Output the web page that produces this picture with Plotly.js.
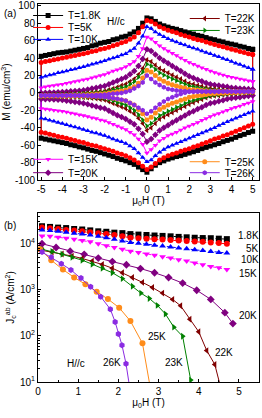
<!DOCTYPE html>
<html><head><meta charset="utf-8">
<script src="https://cdn.plot.ly/plotly-3.0.1.min.js"></script>
<style>html,body{margin:0;padding:0;background:#fff}#chart{width:262px;height:418px}</style>
</head><body><div id="chart"></div>
<script>
// ---------- Panel (a): M(H) loops ----------
const fieldA = [-5,-4.8,-4.6,-4.4,-4.2,-4,-3.8,-3.6,-3.4,-3.2,-3,-2.8,-2.6,-2.4,-2.2,-2,-1.8,-1.6,-1.4,-1.2,-1,-0.8,-0.6,-0.4,-0.2,0,0.2,0.4,0.6,0.8,1,1.2,1.4,1.6,1.8,2,2.2,2.4,2.6,2.8,3,3.2,3.4,3.6,3.8,4,4.2,4.4,4.6,4.8,5];
const up1p8 = [42,43,44,45,46,46.5,47,48,49,50,51,52,54,55,57,58,59,61,62,64,65,67.5,70,74,80,86,85,82,79,77,75.5,74,73,71.5,70,69,67.5,66,65,63.5,62,61,59.5,58.5,57,56,55,53.5,52.5,51,50];
const lo1p8 = [-52,-53,-54,-55,-56,-57,-58,-59.5,-60.5,-62,-63,-64.5,-66,-67,-68.5,-70,-71.5,-73,-75,-76.5,-78,-80,-82,-85,-88,-91,-87,-83,-80,-78,-76,-74.5,-73,-72,-70.5,-69,-67.5,-66,-64,-62.5,-61,-59.5,-58,-56,-54.5,-53,-51,-49,-47.5,-45.5,-44];
const up5 = [35,36,37,38,39,40,41,42,43,44,45,46,47.5,48.5,50,51,52.5,54,55.5,57.5,59,61.5,64,69,76,83,82,79,76,74,72,70.5,69,67,65.5,64,62.5,61,60,58.5,57,55.5,54,53,51.5,50,49,47.5,46.5,45,44];
const lo5 = [-45,-46,-47.5,-48.5,-50,-51,-52,-53.5,-54.5,-56,-57,-58.5,-60,-61,-62.5,-64,-65.5,-67,-69,-70.5,-72,-74.5,-77,-80,-84,-88,-85,-81,-77,-74.5,-72,-70.5,-69,-67,-65.5,-64,-62,-60.5,-58.5,-57,-55,-53,-51.5,-49.5,-48,-46,-44,-42,-40,-38,-36];
const up10 = [18,19,20.5,21.5,23,24,25,26.5,27.5,29,30,31.5,33,34,35.5,37,38.5,40,41.5,43.5,45,48,51,57,65,76,74,70,67,64.5,62,60,58.5,56.5,55,53,51.5,50,48,46.5,45,43,41.5,39.5,38,36,34,32.5,30.5,29,27];
const lo10 = [-29,-30,-31.5,-32.5,-34,-35,-36.5,-38,-39,-40.5,-42,-43.5,-45,-46,-47.5,-49,-51,-53,-54.5,-56,-58,-61,-64,-69,-74,-79,-77,-72,-68,-65,-62,-60,-58,-56,-54,-52,-50,-48,-46,-44,-42,-40,-37.5,-35.5,-33,-31,-29,-27,-25,-23,-21];
const up15 = [6,7,8,8.5,9.5,10,11,12,13,14,15,16,17.5,18.5,20,21,23,25,26.5,28,30,33,36,42,51,64,62,58,54,51,48,45.5,43,40,37.5,35,33,31,29,27,25,23.5,22,20.5,19,18,17,16,15,14,13];
const lo15 = [-18,-18.5,-19,-20,-20.5,-21,-22,-23,-24,-25,-26,-27,-28.5,-29.5,-31,-32,-34,-36,-38,-40,-42,-45,-48,-53,-59,-69,-65,-60,-55,-52,-49,-47,-45,-42.5,-40,-38,-36,-34,-31.5,-29.5,-27,-25,-23.5,-21.5,-20,-18,-16.5,-15,-13,-11.5,-10];
const up20 = [0,0.2,0.4,0.6,0.8,1,1.4,1.8,2.2,2.6,3,4,5,6,7,8,10,12,14,16,18,21.5,25,31,39,50,48,44,40,37,34,31,28,25,22,19,17,15,13.5,11.5,10,9,8.5,7.5,7,6,5.5,5,4.8,4.4,4];
const lo20 = [-7,-7.2,-7.4,-7.6,-7.8,-8,-9,-9.5,-10.5,-11,-12,-13,-14.5,-15.5,-17,-18,-20.5,-23,-25.5,-27.5,-30,-33,-36,-41,-47,-56,-53,-48,-43,-40,-37,-34,-31.5,-28.5,-26,-23,-21,-18.5,-16.5,-14,-12,-11,-9.5,-8.5,-7,-6,-5.5,-5,-4,-3.5,-3];
const up22 = [-2,-1.9,-1.8,-1.7,-1.6,-1.5,-1.3,-1.1,-0.9,-0.7,-0.5,0,0.5,1,1.5,2,3.5,5,6.5,8.5,10,13,16,21,28,38,36,32,28,25.5,23,20.5,18,16,13.5,11,10,8.5,7.5,6,5,4.5,4,3.5,3,2.5,2.3,2.1,1.9,1.7,1.5];
const lo22 = [-4,-4,-4,-4,-4,-4,-4.2,-4.4,-4.6,-4.8,-5,-5.5,-6,-6.5,-7.5,-8,-10,-12,-14,-16,-18,-21,-24,-29,-35,-43,-40,-35,-30,-27.5,-25,-22.5,-20,-17.5,-15.5,-13,-11,-9,-7.5,-5.5,-4,-3.5,-3,-2,-1.5,-1,-0.7,-0.4,-0.1,0.2,0.5];
const up23 = [-2.5,-2.4,-2.3,-2.2,-2.1,-2,-1.8,-1.6,-1.4,-1.2,-1,-0.6,-0.2,0.2,0.6,1,2,3.5,4.5,6,7,10,13,18,24,33,31,27,23,20.5,18,16,14,12,10,8,7,6,5,4.5,3.5,3.2,2.9,2.6,2.3,2,1.9,1.8,1.7,1.6,1.5];
const lo23 = [-4,-4,-4,-4,-4,-4,-4.1,-4.2,-4.3,-4.4,-4.5,-4.8,-5.1,-5.4,-5.7,-6,-7.5,-9,-11,-12.5,-14,-17,-20,-25,-31,-38,-35,-30,-26,-23.5,-21,-19,-16.5,-14.5,-12,-10,-8.5,-7,-5.5,-4.5,-3,-2.5,-2,-1.5,-1,-0.5,-0.3,-0.1,0.1,0.3,0.5];
const up25 = [-3,-3,-3,-3,-3,-3,-2.9,-2.8,-2.7,-2.6,-2.5,-2.2,-1.9,-1.6,-1.3,-1,-0.2,0.6,1.4,2.2,3,5,7,11,17,26,24,20,16,13.5,11,9.5,8,6.5,5.5,4,3.6,3.2,2.8,2.4,2,1.9,1.8,1.7,1.6,1.5,1.5,1.5,1.5,1.5,1.5];
const lo25 = [-3.5,-3.5,-3.5,-3.5,-3.5,-3.5,-3.5,-3.5,-3.5,-3.5,-3.5,-3.6,-3.7,-3.8,-3.9,-4,-5,-6,-7,-8,-9,-11.5,-14,-19,-24,-31,-28,-23,-19,-16.5,-14,-12,-10.5,-8.5,-7,-5,-4.2,-3.4,-2.6,-1.8,-1,-0.7,-0.4,-0.1,0.2,0.5,0.6,0.7,0.8,0.9,1];
const up26 = [-3,-3,-3,-3,-3,-3,-3,-3,-3,-3,-3,-2.9,-2.7,-2.5,-2.3,-2,-1.6,-1.1,-0.6,0,1,2.5,5,8,12,20,16,12,9,6.5,4.5,3.5,2.8,2.2,1.8,1.6,1.5,1.5,1.5,1.5,1.5,1.5,1.5,1.5,1.5,1.5,1.5,1.5,1.5,1.5,1.5];
const lo26 = [-3,-3,-3,-3,-3,-3,-3,-3,-3,-3,-3.1,-3.4,-3.7,-4,-4.3,-4.6,-5.3,-6,-6.8,-7.8,-9,-11.5,-14,-17,-20,-24,-21,-17,-13,-10,-7,-5,-3,-1.2,0.2,1.2,1.4,1.5,1.5,1.5,1.5,1.5,1.5,1.5,1.5,1.5,1.5,1.5,1.5,1.5,1.5];

// ---------- Panel (b): Jc(H) ----------
const fieldB_lowT = [0.1,0.3,0.5,0.7,0.9,1.1,1.3,1.5,1.7,1.9,2.1,2.3,2.5,2.7,2.9,3.1,3.3,3.5,3.7,3.9,4.1,4.3,4.5,4.7];
const jc1p8 = [24000,23200,22400,21900,20900,20400,19500,18600,18200,17400,17000,16200,15800,15500,15100,14800,14500,14100,13800,13500,13300,13200,12900,12600];
const jc5 = [22400,21600,20900,20000,19300,18600,17800,17000,16200,15500,14500,13500,13200,12900,12600,12300,12000,11700,11500,11200,11000,10700,10400,10000];
const jc10 = [20000,19300,18600,17800,17000,16200,15500,14500,13500,12600,11500,10700,10200,9800,9300,8900,8500,8100,7800,7400,7100,6800,6500,6300];
const jc15 = [14800,14500,13800,13200,12600,11700,11000,10000,9100,8300,7600,6900,6500,6000,5600,5200,4900,4500,4200,3800,3500,3200,3000,2750];
const fieldB20 = [0.1,0.45,0.8,1.15,1.5,1.85,2.2,2.55,2.9,3.25,3.6,3.95,4.3,4.65,4.85];
const jc20 = [10000,8300,6900,5900,4900,4100,3500,2900,2350,1850,1400,980,620,320,185];
const fieldB22 = [0.1,0.35,0.6,0.85,1.1,1.35,1.6,1.85,2.1,2.35,2.6,2.85,3.1,3.35,3.55,3.78,4.0,4.2,4.4,4.6];
const jc22 = [7200,6600,6000,5400,4800,4200,3550,2950,2350,1860,1450,1120,850,620,450,230,123,48,24,5];
const fieldB23 = [0.1,0.35,0.6,0.85,1.1,1.35,1.6,1.85,2.1,2.35,2.56,2.77,2.97,3.17,3.38,3.6,3.8];
const jc23 = [7600,6800,5900,5100,4400,3600,2950,2350,1750,1200,850,650,460,300,155,98,11];
const fieldB25 = [0.05,0.33,0.62,0.9,1.18,1.46,1.74,2.02,2.3,2.6,2.85];
const jc25 = [7600,4400,2750,1860,1320,910,630,410,210,69,4];
const fieldB26 = [0.1,0.33,0.58,0.82,1.07,1.31,1.56,1.8,1.92,2.0,2.09,2.19,2.3];
const jc26 = [6600,5100,3700,2700,1800,1170,710,380,200,110,63,25,6];

const tempLabels = ['1.8K','5K','10K','15K','20K','22K','23K','25K','26K'];
const colors = ['#000000','#ff0000','#0000ff','#ff00ff','#800080','#800000','#008000','#ff8c1a','#8a2be2'];
const symbols = ['square','circle','triangle-up','triangle-down','diamond','triangle-left','triangle-right','circle','hexagon'];
const legendIds = ['legend','legend2','legend3','legend6','legend7','legend4','legend5','legend8','legend9'];

const upper = [up1p8,up5,up10,up15,up20,up22,up23,up25,up26];
const lower = [lo1p8,lo5,lo10,lo15,lo20,lo22,lo23,lo25,lo26];
const fieldsB = [fieldB_lowT,fieldB_lowT,fieldB_lowT,fieldB_lowT,fieldB20,fieldB22,fieldB23,fieldB25,fieldB26];
const jcs = [jc1p8,jc5,jc10,jc15,jc20,jc22,jc23,jc25,jc26];

const F = 'Liberation Sans, Arial, Helvetica, sans-serif';
const traces = [];
for (let i = 0; i < tempLabels.length; i++) {
  const n = fieldA.length;
  const xs = fieldA.slice().reverse().concat(fieldA, [fieldA[n-1]]);
  const ys = upper[i].slice().reverse().concat(lower[i], [upper[i][n-1]]);
  traces.push({
    type:'scatter', mode:'lines+markers', x: xs, y: ys, xaxis:'x', yaxis:'y',
    name: 'T=' + tempLabels[i], legend: legendIds[i], showlegend: true,
    line:{color: colors[i], width: 1},
    marker:{color: colors[i], symbol: symbols[i], size: 5, line:{width:0}},
    hoverinfo:'skip'
  });
}
for (let i = 0; i < tempLabels.length; i++) {
  traces.push({
    type:'scatter', mode:'lines+markers', x: fieldsB[i], y: jcs[i], xaxis:'x2', yaxis:'y2',
    name: tempLabels[i], showlegend: false,
    line:{color: colors[i], width: 1, dash: i < 4 ? 'dot' : 'solid'},
    marker:{color: colors[i], symbol: symbols[i], size: 6, line:{width:0}},
    hoverinfo:'skip', cliponaxis: true
  });
}

function leg(x, y) {
  return {x: x, y: y, xanchor:'left', yanchor:'top', bgcolor:'rgba(0,0,0,0)', borderwidth:0,
          font:{family:F, size:10, color:'#000'}, tracegroupgap:0};
}
const axCommon = {showline:true, mirror:true, linecolor:'#000', linewidth:1, ticks:'inside', ticklen:3,
  tickcolor:'#000', showgrid:false, zeroline:false, tickfont:{family:F, size:10, color:'#000'}};

const layout = {
  width:262, height:418, margin:{l:38, r:1, t:2, b:36}, paper_bgcolor:'#fff', plot_bgcolor:'#fff',
  font:{family:F, size:10, color:'#000'},
  xaxis: Object.assign({}, axCommon, {domain:[0,1], anchor:'y', range:[-5.15,5.3],
    tickmode:'array', tickvals:[-5,-4,-3,-2,-1,0,1,2,3,4,5], ticktext:['-5','-4','-3','-2','-1','0','1','2','3','4','5'],
    title:{text:'μ<sub>0</sub>H (T)', font:{family:F, size:10}, standoff:2}}),
  yaxis: Object.assign({}, axCommon, {domain:[0.5342,1], anchor:'x', range:[-100,102],
    tickmode:'array', tickvals:[-100,-80,-60,-40,-20,0,20,40,60,80,100],
    ticktext:['-100','-80','-60','-40','-20','0','20','40','60','80','100'],
    title:{text:'M (emu/cm<sup>3</sup>)', font:{family:F, size:10}, standoff:3}}),
  xaxis2: Object.assign({}, axCommon, {domain:[0,1], anchor:'y2', range:[0,5.5],
    tickmode:'array', tickvals:[0,1,2,3,4,5], ticktext:['0','1','2','3','4','5'],
    minor:{tickmode:'array', tickvals:[0.5,1.5,2.5,3.5,4.5], ticks:'inside', ticklen:2, tickcolor:'#000'},
    title:{text:'μ<sub>0</sub>H (T)', font:{family:F, size:10}, standoff:2}}),
  yaxis2: Object.assign({}, axCommon, {type:'log', domain:[0,0.4474], anchor:'x2', range:[1,4.67],
    tickmode:'array', tickvals:[10,100,1000,10000],
    ticktext:['10<sup>1</sup>','10<sup>2</sup>','10<sup>3</sup>','10<sup>4</sup>'],
    minor:{tickmode:'array', tickvals:[20,30,40,50,60,70,80,90,200,300,400,500,600,700,800,900,2000,3000,4000,5000,6000,7000,8000,9000,20000,30000,40000],
      ticks:'inside', ticklen:2, tickcolor:'#000'},
    title:{text:'J<sub>c</sub><sup>ab</sup> (A/cm<sup>2</sup>)', font:{family:F, size:10}, standoff:3}}),
  legend: leg(-0.0448, 1.0079),
  legend2: leg(-0.0448, 0.9763),
  legend3: leg(-0.0448, 0.9447),
  legend4: leg(0.664, 1.0),
  legend5: leg(0.664, 0.9684),
  legend6: leg(-0.0448, 0.6276),
  legend7: leg(-0.0448, 0.5921),
  legend8: leg(0.664, 0.6211),
  legend9: leg(0.664, 0.5921),
  annotations: [
    {text:'(a)', xref:'paper', yref:'paper', x:-0.165, y:0.974, xanchor:'left', yanchor:'middle', showarrow:false, font:{family:F,size:10}},
    {text:'(b)', xref:'paper', yref:'paper', x:-0.165, y:0.413, xanchor:'left', yanchor:'middle', showarrow:false, font:{family:F,size:10}},
    {text:'H//c', xref:'x', yref:'y', x:-1.45, y:81.5, xanchor:'center', yanchor:'middle', showarrow:false, font:{family:F,size:10}},
    {text:'H//c', xref:'x2', yref:'y2', x:0.67, y:1.41, xanchor:'left', yanchor:'middle', showarrow:false, font:{family:F,size:10}},
    {text:'1.8K', xref:'x2', yref:'y2', x:4.93, y:4.175, xanchor:'left', yanchor:'middle', showarrow:false, font:{family:F,size:10}},
    {text:'5K', xref:'x2', yref:'y2', x:5.13, y:3.9, xanchor:'left', yanchor:'middle', showarrow:false, font:{family:F,size:10}},
    {text:'10K', xref:'x2', yref:'y2', x:5.01, y:3.65, xanchor:'left', yanchor:'middle', showarrow:false, font:{family:F,size:10}},
    {text:'15K', xref:'x2', yref:'y2', x:4.94, y:3.35, xanchor:'left', yanchor:'middle', showarrow:false, font:{family:F,size:10}},
    {text:'20K', xref:'x2', yref:'y2', x:4.94, y:2.45, xanchor:'left', yanchor:'middle', showarrow:false, font:{family:F,size:10}},
    {text:'22K', xref:'x2', yref:'y2', x:4.35, y:1.63, xanchor:'left', yanchor:'middle', showarrow:false, font:{family:F,size:10}},
    {text:'23K', xref:'x2', yref:'y2', x:3.12, y:1.43, xanchor:'left', yanchor:'middle', showarrow:false, font:{family:F,size:10}},
    {text:'25K', xref:'x2', yref:'y2', x:2.68, y:1.98, xanchor:'left', yanchor:'middle', showarrow:false, font:{family:F,size:10}},
    {text:'26K', xref:'x2', yref:'y2', x:1.56, y:1.43, xanchor:'left', yanchor:'middle', showarrow:false, font:{family:F,size:10}}
  ]
};

Plotly.newPlot('chart', traces, layout, {staticPlot:true, displayModeBar:false});
</script>
</body></html>
